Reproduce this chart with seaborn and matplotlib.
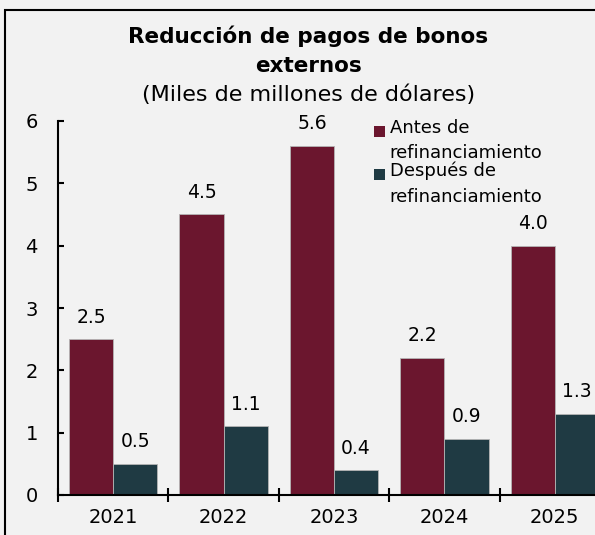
import numpy as np
import pandas as pd
import matplotlib
matplotlib.use("Agg")
import matplotlib.pyplot as plt
import matplotlib.patches as mpatches
from matplotlib.legend_handler import HandlerPatch
import seaborn as sns

# Data (miles de millones de dólares)
years = ["2021", "2022", "2023", "2024", "2025"]
antes = [2.5, 4.5, 5.6, 2.2, 4.0]
despues = [0.5, 1.1, 0.4, 0.9, 1.3]
series = ["Antes de\nrefinanciamiento", "Después de\nrefinanciamiento"]
colors = ["#6B162E", "#1F3A43"]
yticks = [0, 1, 2, 3, 4, 5, 6]

BG = "#F2F2F2"
W, H = 595, 535

df = pd.DataFrame({
    "year": years * 2,
    "value": antes + despues,
    "serie": [series[0]] * len(years) + [series[1]] * len(years),
})

sns.set_theme(style="ticks")
plt.rcParams["font.family"] = ["DejaVu Sans"]
plt.rcParams["text.color"] = "black"

fig = plt.figure(figsize=(W / 100, H / 100), dpi=100, facecolor=BG)
# the plot area runs past the right edge, like the cropped original
ax = fig.add_axes([58 / W, 40 / H, 552 / W, 374 / H])
ax.set_facecolor(BG)

sns.barplot(data=df, x="year", y="value", hue="serie", palette=colors,
            saturation=1, width=0.8, edgecolor="#b5b5b5", linewidth=0.6,
            ax=ax)

for cont in ax.containers:
    ax.bar_label(cont, fmt="%.1f", padding=9, fontsize=13.5, color="black")

ax.set_xlim(-0.5, 4.5)
ax.set_ylim(0, 6)
ax.set_yticks(yticks)
ax.set_xticks(np.arange(-0.5, 5, 1.0))
ax.set_xticklabels([])
ax.set_xticks(range(len(years)), minor=True)
ax.set_xticklabels(years, minor=True)
ax.tick_params(axis="x", which="major", direction="inout", length=10,
               width=1.5, color="black")
ax.tick_params(axis="x", which="minor", length=0, pad=9.5, labelsize=14,
               labelcolor="black")
ax.tick_params(axis="y", direction="in", length=4, width=1.5, pad=14.5,
               labelsize=14, labelcolor="black", color="black")
ax.set_xlabel("")
ax.set_ylabel("")
for side in ["top", "right"]:
    ax.spines[side].set_visible(False)
for side in ["left", "bottom"]:
    ax.spines[side].set_linewidth(1.5)
    ax.spines[side].set_color("black")


# legend squares sit next to the first line of each label
def top_square(legend, orig_handle, xdescent, ydescent, width, height, fontsize):
    size = 0.62 * fontsize
    return mpatches.Rectangle((-xdescent, -ydescent + 0.55 * fontsize), size, size)


handles = [mpatches.Patch(facecolor=c, edgecolor="none", label=s)
           for c, s in zip(colors, series)]
leg = ax.legend(handles=handles, loc="upper left",
                bbox_to_anchor=(374 / W, 1 - 119 / H),
                bbox_transform=fig.transFigure, frameon=False,
                fontsize=13, handlelength=0.62, handleheight=0.62,
                handletextpad=0.25, labelspacing=0.0, borderpad=0,
                borderaxespad=0,
                handler_map={mpatches.Patch: HandlerPatch(patch_func=top_square)})
for t in leg.get_texts():
    t.set_linespacing(1.5)
    t.set_color("black")

# title block centred on the outer frame
cx = 308.5 / W
fig.text(cx, 1 - 43 / H, "Reducción de pagos de bonos", ha="center",
         va="baseline", fontsize=15.5, fontweight="bold", color="black")
fig.text(cx, 1 - 72 / H, "externos", ha="center", va="baseline",
         fontsize=15.5, fontweight="bold", color="black")
fig.text(cx, 1 - 101 / H, "(Miles de millones de dólares)", ha="center",
         va="baseline", fontsize=16, color="black")

# outer frame, cut by the right and bottom edges
fig.add_artist(mpatches.Rectangle((5 / W, -0.1), 1.2, 1.1 - 10 / H,
                                  transform=fig.transFigure, fill=False,
                                  edgecolor="black", linewidth=1.5))

fig.savefig("out.png", dpi=100, facecolor=BG)
